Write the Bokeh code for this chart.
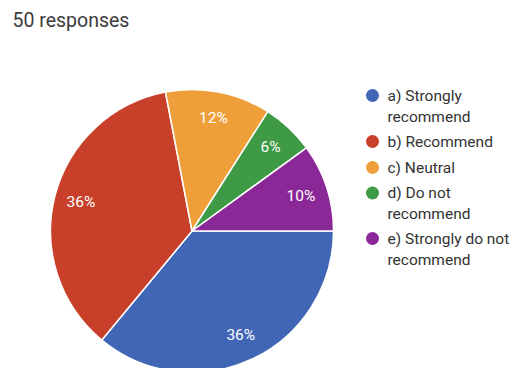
import math
from bokeh.plotting import figure
from bokeh.models import Range1d, ColumnDataSource
from bokeh.core.properties import value
from bokeh.embed import file_html
from bokeh.resources import INLINE

W, H = 517, 368
title_text = "50 responses"
categories = ["a) Strongly recommend", "b) Recommend", "c) Neutral", "d) Do not recommend", "e) Strongly do not recommend"]
legend_lines = [["a) Strongly", "recommend"], ["b) Recommend"], ["c) Neutral"], ["d) Do not", "recommend"], ["e) Strongly do not", "recommend"]]
percents = [36, 36, 12, 6, 10]
colors = ["#4266b6", "#c9402a", "#ee9f3a", "#3e9a44", "#8a2898"]

p = figure(width=W, height=H, output_backend="svg", toolbar_location=None,
           x_range=Range1d(0, W), y_range=Range1d(0, H), min_border=0)
p.axis.visible = False
p.grid.visible = False
p.outline_line_color = None
p.background_fill_color = "white"
p.border_fill_color = "white"

cx, cy, r = 191.5, H - 230.5, 141.5
total = sum(percents)
starts, ends, lx, ly, labels = [], [], [], [], []
acc = 0.0
for v in percents:
    a0 = -2 * math.pi * acc / total
    acc += v
    a1 = -2 * math.pi * acc / total
    starts.append(a0)
    ends.append(a1)
    mid = (a0 + a1) / 2
    lx.append(cx + 0.81 * r * math.cos(mid))
    ly.append(cy + 0.81 * r * math.sin(mid))
    labels.append(f"{v}%")

src = ColumnDataSource(dict(start=starts, end=ends, color=colors, lx=lx, ly=ly, label=labels))
p.wedge(x=cx, y=cy, radius=r, start_angle="start", end_angle="end", direction="clock",
        fill_color="color", line_color="white", line_width=1.5, source=src)
p.text(x="lx", y="ly", text="label", source=src, text_color="white", text_font=value("Roboto"),
       text_font_size="15.5px", text_align="center", text_baseline="middle")

# title
p.text(x=[12], y=[H - 20], text=[title_text], text_color="#3c3c3c", text_font=value("Roboto"),
       text_font_size="19.5px", text_baseline="middle")

# legend
item_y = [95, 141, 167, 192.5, 238]
line_h = 21
mx, my, tx, ty, tt = [], [], [], [], []
for i, lines in enumerate(legend_lines):
    mx.append(372)
    my.append(H - item_y[i])
    for j, ln in enumerate(lines):
        tx.append(387)
        ty.append(H - (item_y[i] + j * line_h))
        tt.append(ln)
p.scatter(x=mx, y=my, size=13, marker="circle", fill_color=colors, line_color=None)
p.text(x=tx, y=ty, text=tt, text_color="#333333", text_font=value("Roboto"),
       text_font_size="15.5px", text_baseline="middle")

open("out.html", "w").write(file_html(p, INLINE))
